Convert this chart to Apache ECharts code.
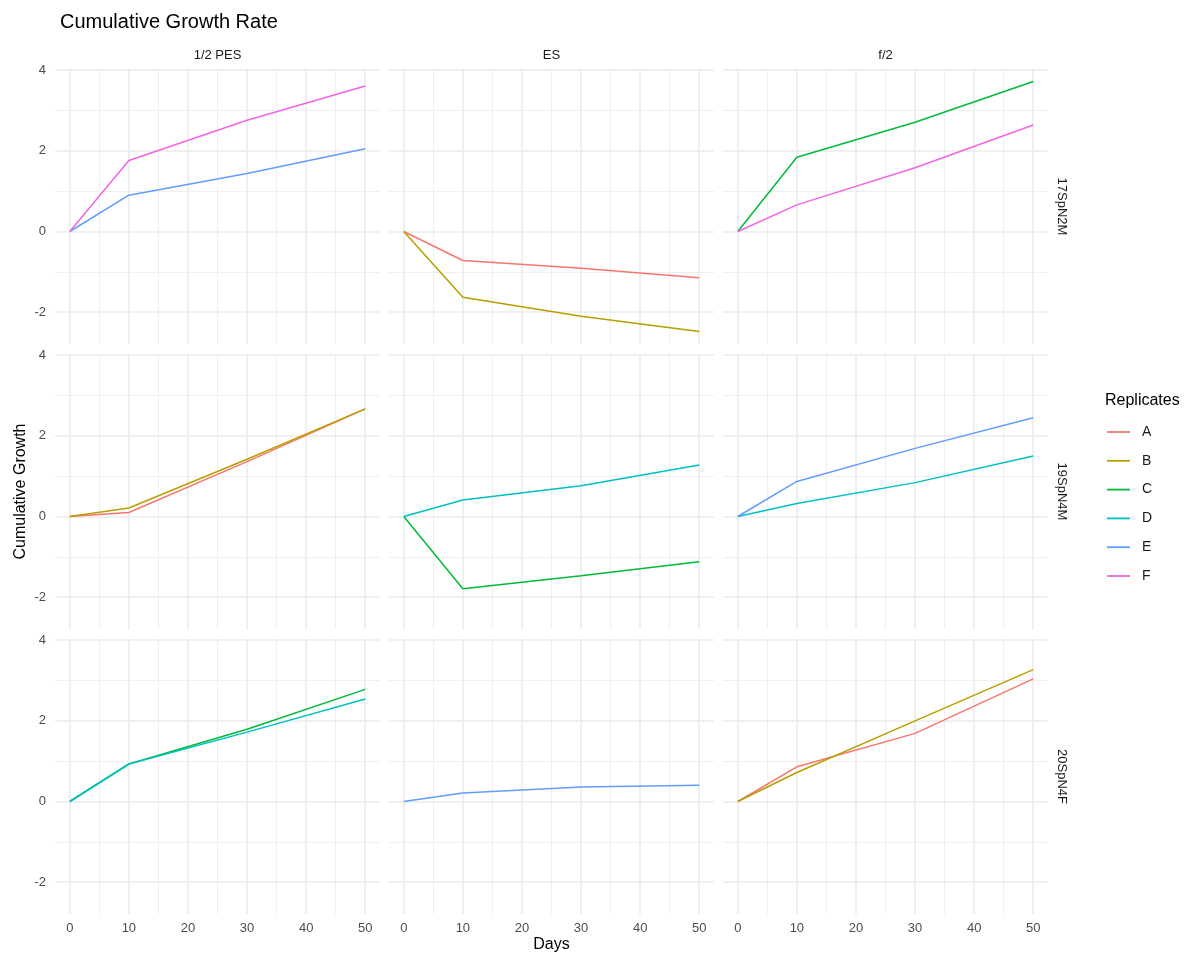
<!DOCTYPE html>
<html>
<head>
<meta charset="utf-8">
<script src="https://cdn.jsdelivr.net/npm/echarts@6/dist/echarts.min.js"></script>
<style>
  html, body { margin: 0; padding: 0; background: #fff; }
  #chart { width: 1197px; height: 958px; }
</style>
</head>
<body>
<div id="chart"></div>
<script>
// ---------------- data ----------------
const days = [0, 10, 30, 50];
const media = ['1/2 PES', 'ES', 'f/2'];            // facet columns
const strains = ['17SpN2M', '19SpN4M', '20SpN4F'];  // facet rows
const replicates = ['A', 'B', 'C', 'D', 'E', 'F'];
const xTicks = [0, 10, 20, 30, 40, 50];
const xMinorTicks = [5, 15, 25, 35, 45];
const yTicks = [-2, 0, 2, 4];
const yMinorTicks = [-1, 1, 3];

// 17SpN2M
const pes17_E = [0, 0.90, 1.44, 2.05];
const pes17_F = [0, 1.76, 2.76, 3.61];
const es17_A = [0, -0.72, -0.91, -1.15];
const es17_B = [0, -1.63, -2.10, -2.48];
const f2_17_C = [0, 1.84, 2.71, 3.72];
const f2_17_F = [0, 0.66, 1.58, 2.64];
// 19SpN4M
const pes19_A = [0, 0.10, 1.36, 2.67];
const pes19_B = [0, 0.21, 1.42, 2.67];
const es19_C = [0, -1.79, -1.47, -1.12];
const es19_D = [0, 0.41, 0.76, 1.28];
const f2_19_D = [0, 0.32, 0.84, 1.50];
const f2_19_E = [0, 0.87, 1.69, 2.45];
// 20SpN4F
const pes20_C = [0, 0.93, 1.79, 2.78];
const pes20_D = [0, 0.93, 1.72, 2.54];
const es20_E = [0, 0.21, 0.36, 0.40];
const f2_20_A = [0, 0.86, 1.69, 3.04];
const f2_20_B = [0, 0.72, 2.00, 3.27];

// panel membership: [row, col, replicate, values]
const panels = [
  [0, 0, 'E', pes17_E], [0, 0, 'F', pes17_F],
  [0, 1, 'A', es17_A], [0, 1, 'B', es17_B],
  [0, 2, 'C', f2_17_C], [0, 2, 'F', f2_17_F],
  [1, 0, 'A', pes19_A], [1, 0, 'B', pes19_B],
  [1, 1, 'C', es19_C], [1, 1, 'D', es19_D],
  [1, 2, 'D', f2_19_D], [1, 2, 'E', f2_19_E],
  [2, 0, 'C', pes20_C], [2, 0, 'D', pes20_D],
  [2, 1, 'E', es20_E],
  [2, 2, 'A', f2_20_A], [2, 2, 'B', f2_20_B]
];

// ---------------- layout / style ----------------
const colors = { A: '#F8766D', B: '#B79F00', C: '#00BA38', D: '#00BFC4', E: '#619CFF', F: '#F564E3' };
const FONT = "'Liberation Sans', Arial, sans-serif";
const colLeft = [55, 389, 723];
const rowTop = [69, 354, 639];
const pW = 325, pH = 275;
const xMin = -2.5, xMax = 52.5;
const yMin = -2.79, yMax = 4.03;
const majorLine = { color: '#EBEBEB', width: 1.6 };
const minorLine = { color: '#EFEFEF', width: 1 };

const grid = [], xAxis = [], yAxis = [];
for (let r = 0; r < 3; r++) {
  for (let c = 0; c < 3; c++) {
    const g = r * 3 + c;
    grid.push({ left: colLeft[c], top: rowTop[r], width: pW, height: pH, containLabel: false });
    // major x axis (index 2g)
    xAxis.push({
      gridIndex: g, type: 'value', min: xMin, max: xMax, position: 'bottom',
      axisLine: { show: false },
      axisTick: { show: false, customValues: xTicks },
      axisLabel: { show: r === 2, customValues: xTicks, color: '#4D4D4D', fontSize: 13, fontFamily: FONT, margin: 8 },
      splitLine: { show: true, lineStyle: majorLine },
      z: 1
    });
    // minor x axis (index 2g+1)
    xAxis.push({
      gridIndex: g, type: 'value', min: xMin, max: xMax, position: 'top',
      axisLine: { show: false },
      axisTick: { show: false, customValues: xMinorTicks },
      axisLabel: { show: false, customValues: xMinorTicks },
      splitLine: { show: true, lineStyle: minorLine },
      z: 0
    });
    yAxis.push({
      gridIndex: g, type: 'value', min: yMin, max: yMax, position: 'left',
      axisLine: { show: false },
      axisTick: { show: false, customValues: yTicks },
      axisLabel: { show: c === 0, customValues: yTicks, color: '#4D4D4D', fontSize: 13, fontFamily: FONT, margin: 9 },
      splitLine: { show: true, lineStyle: majorLine },
      z: 1
    });
    yAxis.push({
      gridIndex: g, type: 'value', min: yMin, max: yMax, position: 'right',
      axisLine: { show: false },
      axisTick: { show: false, customValues: yMinorTicks },
      axisLabel: { show: false, customValues: yMinorTicks },
      splitLine: { show: true, lineStyle: minorLine },
      z: 0
    });
  }
}

const series = [];
// sort by replicate so later letters draw on top (ggplot group order)
panels.slice().sort((a, b) => replicates.indexOf(a[2]) - replicates.indexOf(b[2])).forEach(([r, c, rep, vals]) => {
  const g = r * 3 + c;
  series.push({
    type: 'line', name: rep,
    xAxisIndex: 2 * g, yAxisIndex: 2 * g,
    data: days.map((d, i) => [d, vals[i]]),
    showSymbol: false, symbol: 'none', silent: true, animation: false,
    lineStyle: { color: colors[rep], width: 1.5 },
    itemStyle: { color: colors[rep] },
    z: 3
  });
});

const graphic = [];
// column strip labels
media.forEach((m, c) => {
  graphic.push({ type: 'text', x: colLeft[c] + pW / 2, y: 55,
    style: { text: m, font: `13px ${FONT}`, fill: '#1A1A1A', align: 'center', verticalAlign: 'middle' } });
});
// row strip labels (rotated clockwise)
strains.forEach((s, r) => {
  graphic.push({ type: 'text', x: 1062, y: rowTop[r] + pH / 2, rotation: -Math.PI / 2,
    style: { text: s, font: `13px ${FONT}`, fill: '#1A1A1A', align: 'center', verticalAlign: 'middle' } });
});
// axis titles
graphic.push({ type: 'text', x: 21, y: rowTop[0] + (rowTop[2] + pH - rowTop[0]) / 2, rotation: Math.PI / 2,
  style: { text: 'Cumulative Growth', font: `16px ${FONT}`, fill: '#000', align: 'center', verticalAlign: 'middle' } });
graphic.push({ type: 'text', x: colLeft[0] + (colLeft[2] + pW - colLeft[0]) / 2, y: 945,
  style: { text: 'Days', font: `16px ${FONT}`, fill: '#000', align: 'center', verticalAlign: 'middle' } });
// legend title
graphic.push({ type: 'text', x: 1105, y: 401,
  style: { text: 'Replicates', font: `16px ${FONT}`, fill: '#000', align: 'left', verticalAlign: 'middle' } });

const option = {
  backgroundColor: '#ffffff',
  animation: false,
  title: {
    text: 'Cumulative Growth Rate', left: 55, top: 7,
    textStyle: { fontSize: 20, fontWeight: 'normal', color: '#000', fontFamily: FONT }
  },
  legend: {
    data: replicates, orient: 'vertical', left: 1107, top: 425, padding: 0,
    icon: 'path://M0,0 L23,0 L23,1.8 L0,1.8 Z',
    itemWidth: 23, itemHeight: 14, itemGap: 14.8,
    selectedMode: false,
    itemStyle: { borderWidth: 0 },
    textStyle: { fontSize: 14, color: '#1A1A1A', fontFamily: FONT, padding: [0, 0, 0, 7], lineHeight: 14 }
  },
  grid, xAxis, yAxis, series, graphic
};

const chart = echarts.init(document.getElementById('chart'), null, { renderer: 'canvas' });
chart.setOption(option);
</script>
</body>
</html>
